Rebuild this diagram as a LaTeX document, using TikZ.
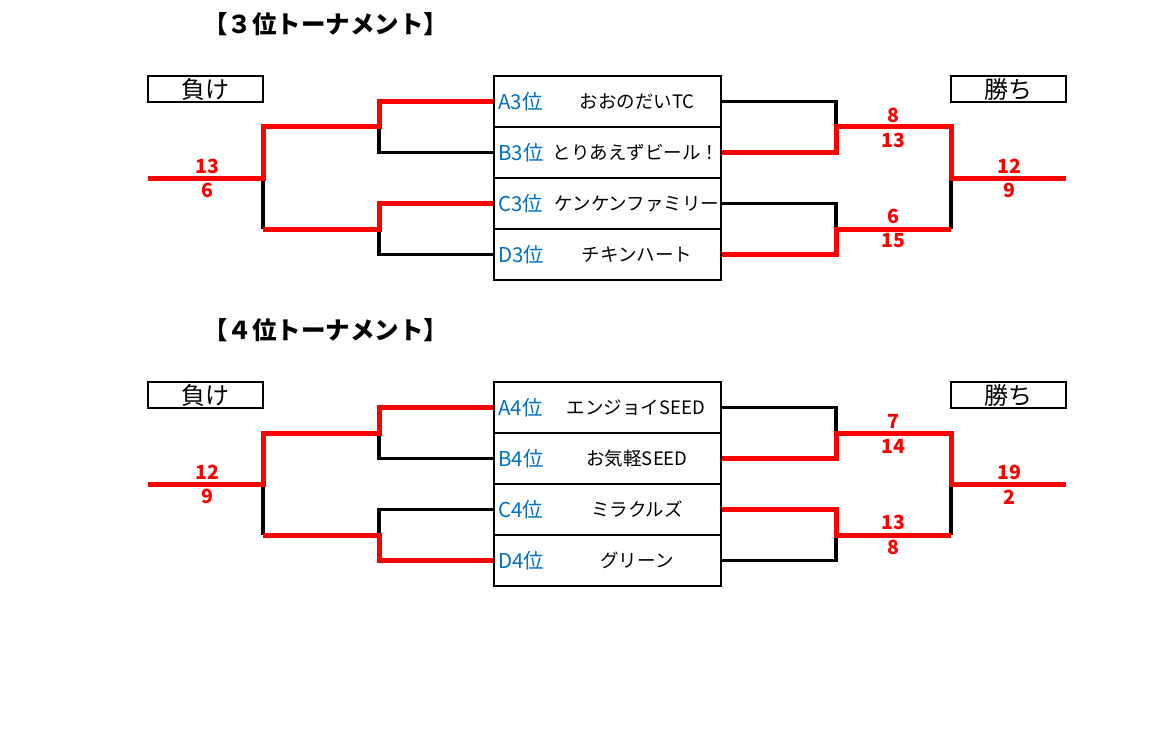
\documentclass[tikz,border=0pt]{standalone}
\usepackage{fontspec}
\setmainfont{Noto Sans CJK JP}
\definecolor{xred}{HTML}{FF0000}
\definecolor{xblue}{HTML}{0070C0}
\begin{document}
\begin{tikzpicture}[x=1pt,y=-1pt,
  row/.style={draw=black,line width=1.6pt,minimum width=227pt,minimum height=51pt,inner sep=0pt},
  rank/.style={anchor=west,text=xblue,font=\fontsize{20.5}{20}\selectfont,inner sep=0pt},
  team/.style={font=\fontsize{18.5}{18}\selectfont,inner sep=0pt},
  win/.style={draw=xred,line width=5pt},
  lose/.style={draw=black,line width=3.6pt},
  score/.style={text=xred,font=\bfseries\fontsize{19.5}{19}\selectfont,inner sep=0pt},
  tag/.style={draw=black,line width=1.6pt,minimum width=115pt,minimum height=26pt,inner sep=0pt,font=\fontsize{24}{24}\selectfont},
  title/.style={anchor=west,font=\bfseries\fontsize{24.5}{24}\selectfont,inner sep=0pt}]
\useasboundingbox (0,0) rectangle (1159,733);

% ---------- 3rd place tournament ----------
\node[title] (T3) at (203,24) {【３位トーナメント】};
\node[tag] (lose3) at (205.5,89) {負け};
\node[tag] (win3) at (1008.5,89) {勝ち};

\node[row] (A3) at (607.5,101.5) {};
\node[row] (B3) at (607.5,152.5) {};
\node[row] (C3) at (607.5,203.5) {};
\node[row] (D3) at (607.5,254.5) {};
\node[rank] (A3r) at (498,101.5) {A3位};
\node[rank] (B3r) at (498,152.5) {B3位};
\node[rank] (C3r) at (498,203.5) {C3位};
\node[rank] (D3r) at (498,254.5) {D3位};
\node[team] (A3t) at (637,101.5) {おおのだいTC};
\node[team] (B3t) at (636,152.5) {とりあえずビール！};
\node[team] (C3t) at (637,203.5) {ケンケンファミリー};
\node[team] (D3t) at (637,254.5) {チキンハート};

\coordinate (L3a) at (379,127);
\coordinate (L3b) at (379,229);
\coordinate (L3c) at (263,178);
\coordinate (L3e) at (148,178);
\coordinate (R3a) at (836,127);
\coordinate (R3b) at (836,229);
\coordinate (R3c) at (951,178);
\coordinate (R3e) at (1066,178);

\draw[lose] (B3.west) -| (L3a);
\draw[lose] (D3.west) -| (L3b);
\draw[lose] (L3c) -- (L3c |- L3b);
\draw[lose] (A3.east) -| (R3a);
\draw[lose] (C3.east) -| (R3b);
\draw[lose] (R3c) -- (R3c |- R3b);
\draw[win] (A3.west) -| (L3a) -| (L3c) -- (L3e);
\draw[win] (C3.west) -| (L3b) -- (L3c |- L3b);
\draw[win] (B3.east) -| (R3a) -| (R3c) -- (R3e);
\draw[win] (D3.east) -| (R3b) -- (R3c |- R3b);

\node[score] (s3a) at (207,166) {13};
\node[score] (s3b) at (207,190) {6};
\node[score] (s3c) at (893,115) {8};
\node[score] (s3d) at (893,140) {13};
\node[score] (s3e) at (893,216) {6};
\node[score] (s3f) at (893,241) {15};
\node[score] (s3g) at (1009,166) {12};
\node[score] (s3h) at (1009,190) {9};

% ---------- 4th place tournament ----------
\node[title] (T4) at (203,330) {【４位トーナメント】};
\node[tag] (lose4) at (205.5,395) {負け};
\node[tag] (win4) at (1008.5,395) {勝ち};

\node[row] (A4) at (607.5,407.5) {};
\node[row] (B4) at (607.5,458.5) {};
\node[row] (C4) at (607.5,509.5) {};
\node[row] (D4) at (607.5,560.5) {};
\node[rank] (A4r) at (498,407.5) {A4位};
\node[rank] (B4r) at (498,458.5) {B4位};
\node[rank] (C4r) at (498,509.5) {C4位};
\node[rank] (D4r) at (498,560.5) {D4位};
\node[team] (A4t) at (636,407.5) {エンジョイSEED};
\node[team] (B4t) at (637,458.5) {お気軽SEED};
\node[team] (C4t) at (637,509.5) {ミラクルズ};
\node[team] (D4t) at (637,560.5) {グリーン};

\coordinate (L4a) at (379,433);
\coordinate (L4b) at (379,535);
\coordinate (L4c) at (263,484);
\coordinate (L4e) at (148,484);
\coordinate (R4a) at (836,433);
\coordinate (R4b) at (836,535);
\coordinate (R4c) at (951,484);
\coordinate (R4e) at (1066,484);

\draw[lose] (B4.west) -| (L4a);
\draw[lose] (C4.west) -| (L4b);
\draw[lose] (L4c) -- (L4c |- L4b);
\draw[lose] (A4.east) -| (R4a);
\draw[lose] (D4.east) -| (R4b);
\draw[lose] (R4c) -- (R4c |- R4b);
\draw[win] (A4.west) -| (L4a) -| (L4c) -- (L4e);
\draw[win] (D4.west) -| (L4b) -- (L4c |- L4b);
\draw[win] (B4.east) -| (R4a) -| (R4c) -- (R4e);
\draw[win] (C4.east) -| (R4b) -- (R4c |- R4b);

\node[score] (s4a) at (207,472) {12};
\node[score] (s4b) at (207,496) {9};
\node[score] (s4c) at (893,421) {7};
\node[score] (s4d) at (893,446) {14};
\node[score] (s4e) at (893,522) {13};
\node[score] (s4f) at (893,547) {8};
\node[score] (s4g) at (1009,472) {19};
\node[score] (s4h) at (1009,497) {2};
\end{tikzpicture}
\end{document}
